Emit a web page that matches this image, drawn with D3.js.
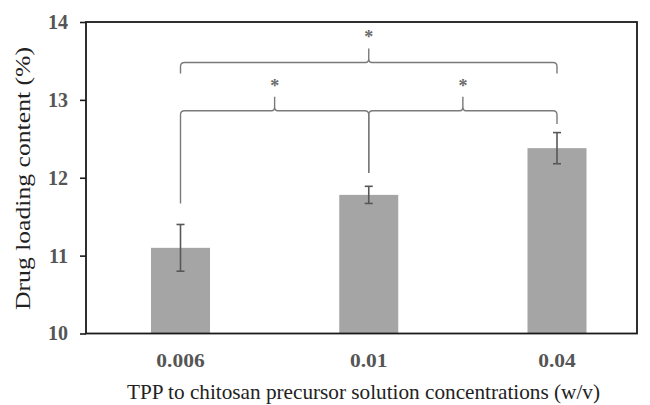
<!DOCTYPE html>
<html>
<head>
<meta charset="utf-8">
<script src="https://cdn.jsdelivr.net/npm/d3@7/dist/d3.min.js"></script>
<style>
  html, body { margin: 0; padding: 0; background: #fff; }
  svg { display: block; }
</style>
</head>
<body>
<svg id="chart" width="650" height="405"></svg>
<script>
// Drug loading content for each TPP concentration
const categories = ["0.006", "0.01", "0.04"];
const loading = [11.1, 11.78, 12.38];
const errors = [0.3, 0.11, 0.2];
const yTicks = [10, 11, 12, 13, 14];

// Significance brackets: between category indexes, at a level, with leg ends (data units)
const brackets = [
  { from: 0, to: 2, level: 13.48, legs: [13.34, 13.34], label: "*" },
  { from: 0, to: 1, level: 12.86, legs: [11.67, 12.06], label: "*" },
  { from: 1, to: 2, level: 12.86, legs: [12.06, 12.69], label: "*" }
];

const svg = d3.select("#chart");
const margin = { left: 86, top: 22, right: 13, bottom: 72 };
const W = 650, H = 405;
const x0 = margin.left, x1 = W - margin.right;
const yTop = margin.top, yBot = H - margin.bottom + 0.5;

const y = d3.scaleLinear().domain([10, 14]).range([yBot, yTop]);
const x = d3.scalePoint().domain(categories).range([x0 + 94.5, x0 + 471]);
const barW = 59;

const serif = "'Liberation Serif', 'Times New Roman', serif";

// Bars
svg.append("g").selectAll("rect").data(categories).join("rect")
  .attr("x", d => x(d) - barW / 2)
  .attr("width", barW)
  .attr("y", (d, i) => y(loading[i]))
  .attr("height", (d, i) => y(10) - y(loading[i]))
  .attr("fill", "#a5a5a5");

// Error bars
const eb = svg.append("g").attr("stroke", "#575757").attr("stroke-width", 1.6).attr("fill", "none");
categories.forEach((c, i) => {
  const cx = x(c);
  const hi = y(loading[i] + errors[i]), lo = y(loading[i] - errors[i]);
  eb.append("line").attr("x1", cx).attr("x2", cx).attr("y1", hi).attr("y2", lo);
  eb.append("line").attr("x1", cx - 4).attr("x2", cx + 4).attr("y1", hi).attr("y2", hi);
  eb.append("line").attr("x1", cx - 4).attr("x2", cx + 4).attr("y1", lo).attr("y2", lo);
});

// Curly significance brackets
const bg = svg.append("g").attr("fill", "none").attr("stroke", "#7a7a7a").attr("stroke-width", 1.4);
const r = 4, tip = 14;
brackets.forEach(b => {
  const xa = x(categories[b.from]), xb = x(categories[b.to]);
  const yl = y(b.level);
  const ya = y(b.legs[0]), yb = y(b.legs[1]);
  const xm = (xa + xb) / 2;
  const p = d3.path();
  p.moveTo(xa, ya);
  p.lineTo(xa, yl + r);
  p.quadraticCurveTo(xa, yl, xa + r, yl);
  p.lineTo(xm - 3, yl);
  p.quadraticCurveTo(xm, yl, xm, yl - 4);
  p.lineTo(xm, yl - tip);
  p.moveTo(xm, yl - 4);
  p.quadraticCurveTo(xm, yl, xm + 3, yl);
  p.lineTo(xb - r, yl);
  p.quadraticCurveTo(xb, yl, xb, yl + r);
  p.lineTo(xb, yb);
  bg.append("path").attr("d", p.toString());
  svg.append("text")
    .attr("x", xm).attr("y", yl - tip - 5)
    .attr("text-anchor", "middle")
    .attr("font-family", serif).attr("font-size", 18).attr("font-weight", "bold")
    .attr("fill", "#6a6a6a")
    .text(b.label);
});

// Frame
svg.append("rect")
  .attr("x", x0).attr("y", yTop)
  .attr("width", x1 - x0).attr("height", yBot - yTop)
  .attr("fill", "none").attr("stroke", "#1a1a1a").attr("stroke-width", 1.8);

// Y axis
const yAxis = svg.append("g")
  .attr("transform", `translate(${x0},0)`)
  .call(d3.axisLeft(y).tickValues(yTicks).tickSize(6).tickPadding(12).tickFormat(d3.format("d")));
yAxis.select(".domain").remove();
yAxis.selectAll(".tick line").attr("stroke", "#1a1a1a").attr("stroke-width", 1.6);
yAxis.selectAll(".tick text")
  .attr("font-family", serif).attr("font-size", 20).attr("font-weight", "bold")
  .attr("fill", "#555");

// X category labels (slightly widened serif)
svg.append("g").selectAll("text").data(categories).join("text")
  .attr("transform", d => `translate(${x(d)},367) scale(1.13,1)`)
  .attr("text-anchor", "middle")
  .attr("font-family", serif).attr("font-size", 19).attr("font-weight", "bold")
  .attr("fill", "#555")
  .text(d => d);

// Axis titles
svg.append("text")
  .attr("transform", "translate(30,178.5) rotate(-90)")
  .attr("text-anchor", "middle")
  .attr("font-family", serif).attr("font-size", 21)
  .attr("textLength", 263).attr("lengthAdjust", "spacingAndGlyphs")
  .attr("fill", "#222")
  .text("Drug loading content (%)");

svg.append("text")
  .attr("x", 363.5).attr("y", 399)
  .attr("text-anchor", "middle")
  .attr("font-family", serif).attr("font-size", 21)
  .attr("textLength", 473).attr("lengthAdjust", "spacingAndGlyphs")
  .attr("fill", "#222")
  .text("TPP to chitosan precursor solution concentrations (w/v)");
</script>
</body>
</html>
